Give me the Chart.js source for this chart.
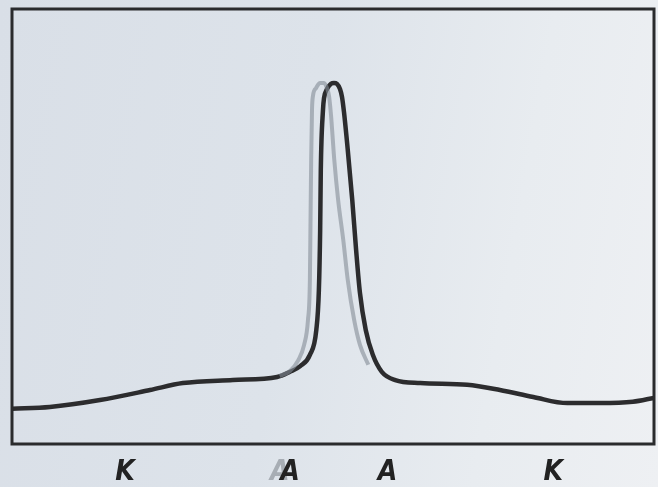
<!DOCTYPE html>
<html>
<head>
<meta charset="utf-8">
<script src="https://cdn.jsdelivr.net/npm/chart.js@4/dist/chart.umd.min.js"></script>
<style>
  html, body { margin: 0; padding: 0; }
  body {
    width: 658px; height: 487px; overflow: hidden;
    background: linear-gradient(100deg, #d9dfe7 0%, #dde3ea 45%, #e8ecf0 75%, #eef0f3 100%);
  }
  canvas { display: block; }
</style>
</head>
<body>
<canvas id="peakChart" width="658" height="487"></canvas>
<script>
// dark (main) curve, x 0..100 across the box, y 0..100 from bottom edge
const darkX = [0, 5.9, 13.7, 21.5, 26.6, 34.4, 41.3, 43.3, 44.9, 46.4, 47.4, 47.8, 48.0, 48.1, 48.44, 48.6, 49.07, 49.69, 50.16, 50.62, 51.09, 51.4, 51.71, 52.3, 53.0, 53.6, 54.2, 55.1, 56.2, 57.6, 59.7, 63.6, 70.9, 76.0, 81.2, 86.5, 91.6, 96.7, 100];
const darkY = [8.1, 8.5, 10.1, 12.4, 14.0, 14.7, 15.4, 16.6, 17.9, 20.5, 26.2, 35.4, 49.2, 63.0, 76.8, 79.5, 81.6, 82.8, 83.0, 82.8, 81.6, 79.8, 76.3, 67.6, 56.1, 44.6, 34.7, 26.2, 20.5, 16.6, 14.7, 14.0, 13.6, 12.4, 10.8, 9.4, 9.4, 9.7, 10.6];

// faint grey curve, shifted a little to the left, peak only
const greyX = [41.7, 43.3, 44.6, 45.5, 46.1, 46.4, 46.5, 46.6, 46.73, 46.88, 47.35, 47.98, 48.6, 49.07, 49.38, 49.69, 50.2, 50.8, 51.6, 52.3, 53.3, 54.2, 55.5];
const greyY = [15.6, 16.8, 19.3, 22.8, 28.5, 37.7, 51.5, 65.3, 76.8, 80.0, 81.8, 83.0, 83.0, 81.8, 80.0, 75.6, 65.3, 56.1, 46.9, 37.7, 28.5, 22.8, 18.2];

// letters under the box
const labelPos = [17.6, 41.7, 43.3, 58.5, 84.3];
const labelText = ['K', 'A', 'A', 'A', 'K'];
const labelColor = ['#222', 'rgba(130,136,144,0.6)', '#222', '#222', '#222'];

function toPoints(xs, ys) {
    return xs.map((x, i) => ({ x: x, y: ys[i] }));
}

// box around the plot area
const framePlugin = {
    id: 'frame',
    afterDraw(chart) {
        const { ctx, chartArea: { left, top, right, bottom } } = chart;
        ctx.save();
        ctx.strokeStyle = '#2a2b2d';
        ctx.lineWidth = 3;
        ctx.strokeRect(left, top, right - left, bottom - top);
        ctx.restore();
    }
};

new Chart(document.getElementById('peakChart'), {
    type: 'scatter',
    data: {
        datasets: [
            {
                label: 'grey',
                data: toPoints(greyX, greyY),
                showLine: true,
                borderColor: 'rgba(132,140,150,0.6)',
                borderWidth: 4,
                pointRadius: 0,
                cubicInterpolationMode: 'monotone'
            },
            {
                label: 'dark',
                data: toPoints(darkX, darkY),
                showLine: true,
                borderColor: '#2c2c2e',
                borderWidth: 4.5,
                pointRadius: 0,
                cubicInterpolationMode: 'monotone'
            }
        ]
    },
    options: {
        responsive: false,
        animation: false,
        layout: { padding: { left: 12, right: 4, top: 9, bottom: 0 } },
        plugins: {
            legend: { display: false },
            tooltip: { enabled: false }
        },
        scales: {
            x: {
                type: 'linear',
                min: 0,
                max: 100,
                grid: { display: false, drawTicks: false },
                border: { display: false },
                afterBuildTicks: (scale) => {
                    scale.ticks = labelPos.map(v => ({ value: v }));
                },
                afterFit: (scale) => { scale.height = 43; },
                ticks: {
                    autoSkip: false,
                    maxRotation: 0,
                    padding: 12,
                    callback: (value, index) => labelText[index],
                    color: (ctx) => labelColor[ctx.index],
                    font: { family: '"Liberation Sans Narrow", "DejaVu Sans Condensed", sans-serif', size: 28, weight: 'bold', style: 'italic' }
                }
            },
            y: {
                display: false,
                min: 0,
                max: 100
            }
        }
    },
    plugins: [framePlugin]
});
</script>
</body>
</html>
